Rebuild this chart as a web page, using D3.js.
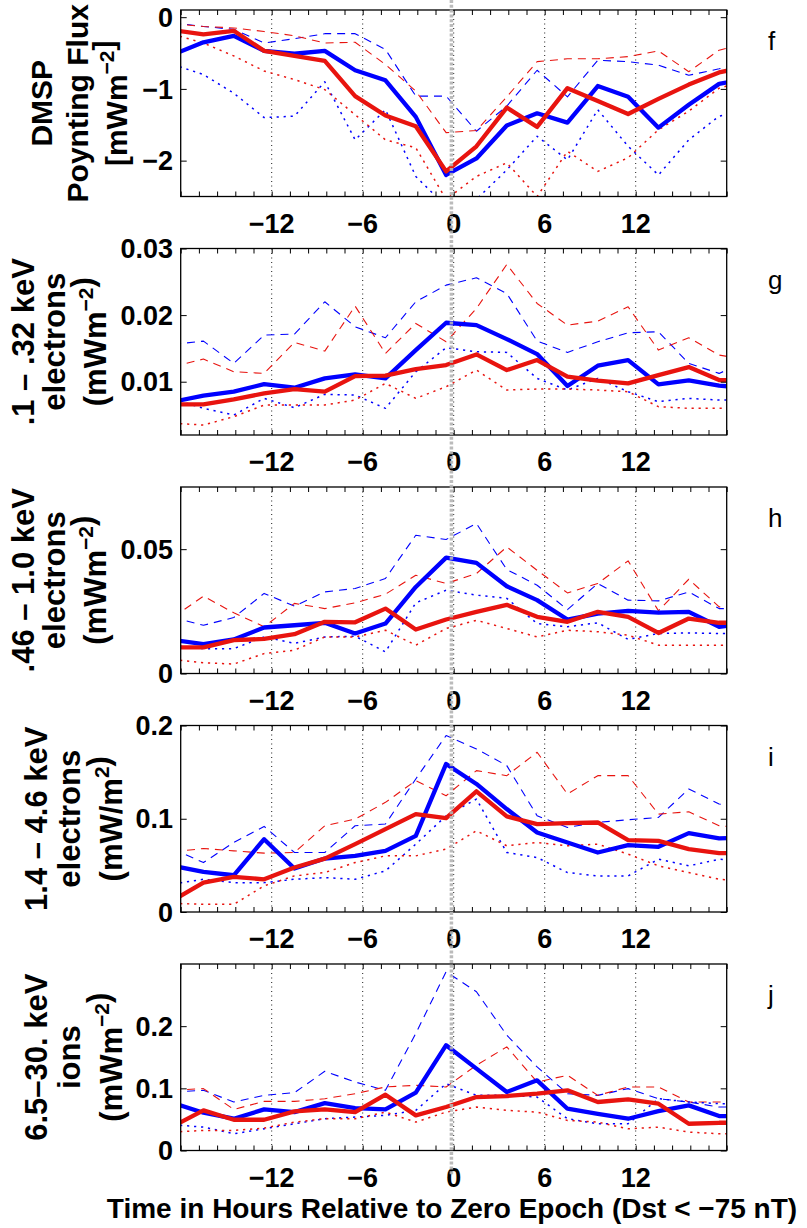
<!DOCTYPE html>
<html><head><meta charset="utf-8">
<script src="https://cdn.jsdelivr.net/npm/d3@7"></script>
<style>
body{margin:0;background:#fff}
svg{display:block}
text{font-family:"Liberation Sans",Arial,Helvetica,sans-serif}
</style>
</head><body>
<svg id="chart" width="807" height="1228"></svg>
<script>
// Epoch hours of the 2-hour bins (centres)
const hours = [-18.5,-16.5,-14.5,-12.5,-10.5,-8.5,-6.5,-4.5,-2.5,-0.5,1.5,3.5,5.5,7.5,9.5,11.5,13.5,15.5,17.5,19.5];
const xTickLabels = [-12,-6,0,6,12];

// f: DMSP Poynting flux
const fBlue   = [-0.52,-0.35,-0.26,-0.47,-0.51,-0.47,-0.74,-0.88,-1.39,-2.20,-1.97,-1.51,-1.34,-1.47,-0.96,-1.11,-1.54,-1.22,-0.93,-0.85];
const fRed    = [-0.18,-0.24,-0.19,-0.47,-0.54,-0.61,-1.10,-1.37,-1.52,-2.15,-1.80,-1.26,-1.53,-0.99,-1.17,-1.35,-1.14,-0.94,-0.77,-0.68];
const fBlueHi = [-0.08,-0.13,-0.17,-0.36,-0.30,-0.23,-0.23,-0.45,-1.10,-1.10,-1.59,-1.24,-0.74,-1.11,-0.60,-0.62,-0.67,-0.81,-0.72,-0.62];
const fRedHi  = [-0.09,-0.13,-0.15,-0.20,-0.26,-0.36,-0.35,-0.66,-1.03,-1.61,-1.58,-1.11,-0.62,-0.58,-0.58,-0.55,-0.47,-0.76,-0.46,-0.35];
const fBlueLo = [-0.66,-0.80,-1.06,-1.40,-1.38,-0.90,-1.71,-1.29,-2.22,-2.64,-2.54,-2.13,-1.66,-1.99,-1.29,-1.80,-2.20,-1.71,-1.38,-1.29];
const fRedLo  = [-0.24,-0.36,-0.54,-0.75,-0.87,-1.01,-1.36,-1.71,-1.82,-2.54,-2.22,-2.03,-2.50,-1.87,-2.15,-1.96,-1.57,-1.31,-0.99,-0.87];

// g: 0.1-0.32 keV electrons
const gBlue   = [0.0070,0.0079,0.0085,0.00965,0.0091,0.0105,0.0111,0.0105,0.01475,0.01885,0.0185,0.0164,0.01415,0.00935,0.0124,0.01325,0.0096,0.0102,0.0094,0.0091];
const gRed    = [0.0066,0.0066,0.00735,0.00825,0.0089,0.0085,0.01085,0.0109,0.0119,0.0125,0.0141,0.01175,0.01325,0.01075,0.01015,0.00975,0.011,0.0122,0.01025,0.0102];
const gBlueHi = [0.0156,0.0161,0.01275,0.017,0.01715,0.022,0.01825,0.0166,0.022,0.0245,0.0256,0.02325,0.0161,0.0144,0.016,0.01735,0.0175,0.01275,0.01125,0.01325];
const gRedHi  = [0.01225,0.0134,0.0115,0.01125,0.0159,0.0146,0.02135,0.01425,0.01875,0.016,0.021,0.0276,0.02175,0.0185,0.0191,0.02125,0.01475,0.0166,0.014,0.01325];
const gBlueLo = [0.0074,0.006,0.005,0.0075,0.0061,0.0081,0.008,0.006,0.0115,0.0151,0.0145,0.0144,0.0105,0.00875,0.0105,0.0085,0.007,0.0075,0.00725,0.0072];
const gRedLo  = [0.00375,0.0035,0.00475,0.0065,0.0065,0.0065,0.00725,0.00975,0.0075,0.00925,0.01175,0.00875,0.0089,0.0089,0.00875,0.0085,0.00625,0.006,0.006,0.006];

// h: 0.46-1.0 keV electrons
const hBlue   = [0.0135,0.0118,0.0137,0.0185,0.0194,0.0204,0.0161,0.0201,0.0348,0.0466,0.0445,0.0351,0.0295,0.0217,0.0241,0.0252,0.0245,0.0248,0.0188,0.0201];
const hRed    = [0.0105,0.0105,0.0134,0.0139,0.0158,0.0208,0.0206,0.0261,0.0177,0.0217,0.0248,0.0276,0.0228,0.0208,0.0248,0.0228,0.0163,0.0221,0.0204,0.0204];
const hBlueHi = [0.0225,0.0194,0.0225,0.0322,0.0271,0.0328,0.0342,0.0382,0.0556,0.0539,0.0603,0.0418,0.0355,0.0257,0.0362,0.0295,0.0292,0.0328,0.0261,0.0261];
const hRedHi  = [0.0226,0.0311,0.0244,0.0188,0.0282,0.0261,0.0284,0.0319,0.0395,0.0362,0.0402,0.0509,0.0415,0.0324,0.0362,0.0453,0.0252,0.0379,0.0268,0.0268];
const hBlueLo = [0.0112,0.0100,0.0100,0.0147,0.0121,0.0147,0.0150,0.0087,0.0284,0.0335,0.0315,0.0302,0.0201,0.0188,0.0204,0.0137,0.0161,0.0163,0.0161,0.0161];
const hRedLo  = [0.0056,0.0043,0.0038,0.0080,0.0094,0.0147,0.0147,0.0174,0.0114,0.0181,0.0214,0.0181,0.0147,0.0174,0.0168,0.0154,0.0114,0.0114,0.0114,0.0114];

// i: 1.4-4.6 keV electrons
const iBlue   = [0.0495,0.043,0.0394,0.0781,0.0466,0.0573,0.0602,0.0656,0.0817,0.1588,0.1373,0.1104,0.0853,0.0746,0.0638,0.0717,0.0699,0.0846,0.0789,0.080];
const iRed    = [0.0125,0.0315,0.0376,0.0351,0.0477,0.0573,0.0728,0.0889,0.105,0.1007,0.1294,0.1025,0.0943,0.0953,0.096,0.0771,0.0763,0.0674,0.0631,0.0631];
const iBlueHi = [0.0674,0.053,0.0746,0.0918,0.0638,0.0638,0.0925,0.0943,0.1427,0.1892,0.1749,0.157,0.1032,0.0907,0.0961,0.0989,0.1014,0.1319,0.1158,0.11];
const iRedHi  = [0.0645,0.0681,0.0656,0.0631,0.0638,0.0925,0.0996,0.1176,0.1409,0.1247,0.1516,0.1462,0.1713,0.1265,0.1462,0.1462,0.105,0.1075,0.0925,0.09];
const iBlueLo = [0.030,0.0351,0.0315,0.0315,0.0351,0.0369,0.0351,0.0441,0.0728,0.1032,0.1211,0.0638,0.0584,0.0423,0.0387,0.0387,0.0566,0.0495,0.0566,0.055];
const iRedLo  = [0.0093,0.0082,0.0082,0.028,0.0387,0.0423,0.053,0.0602,0.0602,0.0674,0.0871,0.071,0.0746,0.071,0.0728,0.062,0.0495,0.0423,0.0351,0.033];

// j: 6.5-30 keV ions
const jBlue   = [0.0763,0.0608,0.0511,0.0661,0.0618,0.0763,0.0683,0.0661,0.093,0.1694,0.1317,0.0941,0.1129,0.0672,0.0591,0.0511,0.0634,0.0726,0.0554,0.055];
const jRed    = [0.0392,0.0645,0.0495,0.0495,0.0629,0.0661,0.0618,0.0898,0.0565,0.0699,0.086,0.0876,0.0914,0.0968,0.078,0.0823,0.0753,0.043,0.0446,0.0446];
const jBlueHi = [0.0941,0.0968,0.078,0.0887,0.093,0.1274,0.1102,0.0968,0.1882,0.2876,0.2554,0.1855,0.1344,0.0914,0.0887,0.0995,0.0833,0.078,0.0699,0.07];
const jRedHi  = [0.097,0.0995,0.0661,0.079,0.079,0.0833,0.0914,0.1022,0.1048,0.1022,0.1371,0.1667,0.1102,0.121,0.0887,0.1022,0.1022,0.078,0.078,0.078];
const jBlueLo = [0.0414,0.0376,0.0269,0.0349,0.043,0.0511,0.0538,0.0565,0.0645,0.1075,0.0887,0.0887,0.086,0.0511,0.043,0.043,0.0833,0.078,0.0753,0.075];
const jRedLo  = [0.0296,0.0323,0.0323,0.036,0.0457,0.0511,0.0511,0.0618,0.0457,0.0618,0.0699,0.0645,0.0618,0.0484,0.0457,0.0349,0.0376,0.0296,0.0269,0.027];

// y-axis tick values and their printed labels per panel
const fTicks = [0,-1,-2],        fTickLabels = ["0","\u22121","\u22122"];
const gTicks = [0.01,0.02,0.03], gTickLabels = ["0.01","0.02","0.03"];
const hTicks = [0,0.05],         hTickLabels = ["0","0.05"];
const iTicks = [0,0.1,0.2],      iTickLabels = ["0","0.1","0.2"];
const jTicks = [0,0.1,0.2],      jTickLabels = ["0","0.1","0.2"];

// y-axis titles, three lines each; "^" marks a superscript part
const fTitle = ["DMSP","Poynting Flux","[mWm^\u22122^]"];
const gTitle = [".1 \u2013 .32 keV","electrons","(mWm^\u22122^)"];
const hTitle = [".46 \u2013 1.0 keV","electrons","(mWm^\u22122^)"];
const iTitle = ["1.4 \u2013 4.6 keV","electrons","(mW/m^2^)"];
const jTitle = ["6.5\u201330. keV","ions","(mWm^\u22122^)"];

const panelLetters = ["f","g","h","i","j"];

const panels = [
  {dom:[-2.5,0.1],   ticks:fTicks, labels:fTickLabels, title:fTitle, tx:[52,88,127], fs:30, s:[fBlue,fRed,fBlueHi,fRedHi,fBlueLo,fRedLo]},
  {dom:[0.002,0.03], ticks:gTicks, labels:gTickLabels, title:gTitle, tx:[34,65,106], fs:31, s:[gBlue,gRed,gBlueHi,gRedHi,gBlueLo,gRedLo]},
  {dom:[0,0.075],    ticks:hTicks, labels:hTickLabels, title:hTitle, tx:[34,65,106], fs:31, s:[hBlue,hRed,hBlueHi,hRedHi,hBlueLo,hRedLo]},
  {dom:[0,0.2],      ticks:iTicks, labels:iTickLabels, title:iTitle, tx:[47,80,122], fs:31, s:[iBlue,iRed,iBlueHi,iRedHi,iBlueLo,iRedLo]},
  {dom:[0,0.3],      ticks:jTicks, labels:jTickLabels, title:jTitle, tx:[47,80,122], fs:31, s:[jBlue,jRed,jBlueHi,jRedHi,jBlueLo,jRedLo]}
];

const BLUE = "#0000ff", RED = "#e8140f";
// draw order: dashed, dotted, then the thick mean lines on top
const styles = [
  {idx:2, c:BLUE, w:1.1, dash:"8,6"},
  {idx:3, c:RED,  w:1.1, dash:"8,6"},
  {idx:4, c:BLUE, w:1.5, dash:"2.2,4.8"},
  {idx:5, c:RED,  w:1.5, dash:"2.2,4.8"},
  {idx:0, c:BLUE, w:4.3, dash:null},
  {idx:1, c:RED,  w:4.3, dash:null}
];

const svg = d3.select("#chart");
const left = 180.7, right = 726.7, firstTop = 10, step = 238.5, ph = 186.5;
const x = d3.scaleLinear().domain([-18,18]).range([left,right]);
const minorTicks = d3.range(-18, 18.001, 1.2);

panels.forEach((p,k) => {
  const top = firstTop + k*step, bottom = top + ph;
  const y = d3.scaleLinear().domain(p.dom).range([bottom, top]);
  const g = svg.append("g");

  const clipId = "clip" + k;
  svg.append("clipPath").attr("id", clipId)
    .append("rect").attr("x", left).attr("y", top).attr("width", right-left).attr("height", ph);

  // dotted vertical grid
  g.selectAll(".grid").data(xTickLabels).enter().append("line")
    .attr("x1", d=>x(d)).attr("x2", d=>x(d)).attr("y1", top).attr("y2", bottom)
    .attr("stroke","#000").attr("stroke-width",0.9).attr("stroke-dasharray","1,3.5");

  // series
  const line = d3.line().x((d,i)=>x(hours[i])).y(d=>y(d));
  const lg = g.append("g").attr("clip-path","url(#"+clipId+")");
  styles.forEach(st => {
    lg.append("path").attr("d", line(p.s[st.idx]))
      .attr("fill","none").attr("stroke",st.c).attr("stroke-width",st.w)
      .attr("stroke-dasharray", st.dash).attr("stroke-linejoin","round");
  });

  // axes with inward ticks
  g.append("g").attr("transform",`translate(0,${bottom})`)
    .call(d3.axisBottom(x).tickValues(minorTicks).tickSize(-5).tickFormat(""));
  g.append("g").attr("transform",`translate(0,${top})`)
    .call(d3.axisTop(x).tickValues(minorTicks).tickSize(-5).tickFormat(""));
  g.append("g").attr("transform",`translate(${left},0)`)
    .call(d3.axisLeft(y).tickValues(p.ticks).tickSize(-6).tickFormat(""));
  g.append("g").attr("transform",`translate(${right},0)`)
    .call(d3.axisRight(y).tickValues(p.ticks).tickSize(-6).tickFormat(""));
  g.selectAll(".domain").remove();
  g.selectAll(".tick line").attr("stroke","#000").attr("stroke-width",1);

  g.append("rect").attr("x",left).attr("y",top).attr("width",right-left).attr("height",ph)
    .attr("fill","none").attr("stroke","#000").attr("stroke-width",1.3);

  // y tick labels
  p.ticks.forEach((t,i) => {
    g.append("text").attr("x",173).attr("y",y(t)).attr("dy","0.36em")
      .attr("text-anchor","end").attr("font-size",27).attr("font-weight","bold")
      .text(p.labels[i]);
  });

  // x tick labels
  xTickLabels.forEach(t => {
    g.append("text").attr("x",x(t)).attr("y",bottom+36)
      .attr("text-anchor","middle").attr("font-size",27).attr("font-weight","bold")
      .text(t < 0 ? "\u2212" + Math.abs(t) : String(t));
  });

  // y-axis title (rotated, three lines)
  const cy = (top+bottom)/2;
  p.title.forEach((ln,li) => {
    const t = g.append("text").attr("transform",`translate(${p.tx[li]},${cy}) rotate(-90)`)
      .attr("text-anchor","middle").attr("font-size",p.fs).attr("font-weight","bold");
    const parts = ln.split("^");
    parts.forEach((part,pi) => {
      if (!part) return;
      if (pi % 2 === 1) {
        t.append("tspan").attr("font-size",21).attr("dy",-13).text(part);
        t.append("tspan").attr("dy",13).text("");
      } else {
        t.append("tspan").text(part);
      }
    });
  });

  // panel letter
  g.append("text").attr("x",768).attr("y",top+40).attr("font-size",26)
    .text(panelLetters[k]);
});

// zero-epoch marker
svg.append("line").attr("x1",x(-0.15)).attr("x2",x(-0.15)).attr("y1",0).attr("y2",1176)
  .attr("stroke","#b4b4b4").attr("stroke-width",3.5).attr("stroke-dasharray","3,1.8").attr("opacity",0.9);

// x-axis title
svg.append("text").attr("x",452).attr("y",1218).attr("text-anchor","middle")
  .attr("font-size",28).attr("font-weight","bold")
  .text("Time in Hours Relative to Zero Epoch (Dst < \u221275 nT)");
</script>
</body></html>
